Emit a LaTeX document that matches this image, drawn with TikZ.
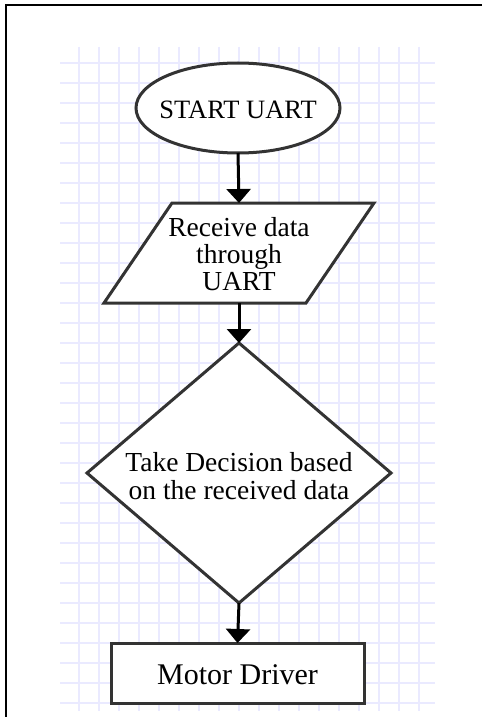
\documentclass[tikz,border=0pt]{standalone}
\usepackage{fontspec}
\setmainfont{Liberation Serif}
\usetikzlibrary{arrows.meta}
\definecolor{gridc}{RGB}{234,234,255}
\definecolor{shapec}{RGB}{51,51,51}
\tikzset{
  shapeline/.style={draw=shapec, line width=3pt, fill=white, line join=miter},
  lbl/.style={font=\fontsize{27.5}{27}\selectfont, align=center, inner sep=0pt},
  holder/.style={inner sep=0pt, outer sep=0pt},
  arr/.style={line width=3pt, -{Triangle[width=24pt,length=14pt]}}
}
\begin{document}
\begin{tikzpicture}[x=1pt,y=-1pt]
\useasboundingbox (0,0) rectangle (482,717);
\fill[white] (0,0) rectangle (482,717);
% grid
\foreach \x in {79,99,...,419} \draw[gridc, line width=1.1pt] (\x,47) -- (\x,711);
\foreach \y in {63,83,...,703} \draw[gridc, line width=1.1pt] (60,\y) -- (435,\y);
% frame
\draw[line width=2pt] (6,717) -- (6,5) -- (482,5);
% start ellipse
\node[holder, minimum width=204pt, minimum height=90pt] (start) at (238,108) {};
\draw[shapeline] (start.center) ellipse [x radius=102pt, y radius=45pt];
\node[lbl, font=\fontsize{26.5}{27}\selectfont] (startt) at (238,110) {START UART};
% parallelogram
\node[holder, minimum width=202pt, minimum height=100pt] (recv) at (239,253) {};
\draw[shapeline] ([xshift=34pt]recv.north west) -- ([xshift=34pt]recv.north east)
  -- ([xshift=-34pt]recv.south east) -- ([xshift=-34pt]recv.south west) -- cycle;
\node[lbl] (recvt) at (239,254) {Receive data\\through\\UART};
% diamond
\node[holder, minimum width=304pt, minimum height=260pt] (dec) at (239,473) {};
\draw[shapeline] (dec.north) -- (dec.east) -- (dec.south) -- (dec.west) -- cycle;
\node[lbl, font=\fontsize{27.5}{28}\selectfont] (dect) at (239,476) {Take Decision based\\on the received data};
% motor driver
\node[shapeline, holder, minimum width=253pt, minimum height=60pt] (motor) at (237.5,673) {};
\node[lbl, font=\fontsize{30}{30}\selectfont] (motort) at (237.5,675) {Motor Driver};
% arrows
\draw[arr] (start.south) -- (recv.north);
\draw[arr] (recv.south) -- (dec.north);
\draw[arr] (dec.south) -- (motor.north);
\end{tikzpicture}
\end{document}
